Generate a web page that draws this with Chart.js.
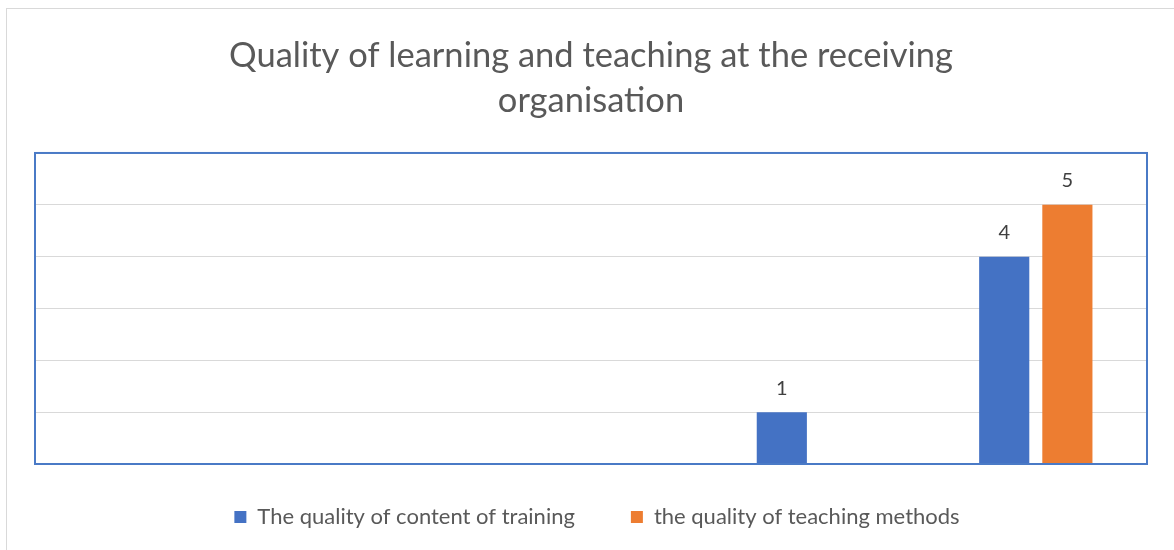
<!DOCTYPE html>
<html>
<head>
<meta charset="utf-8">
<script src="https://cdn.jsdelivr.net/npm/chart.js@4.4.0/dist/chart.umd.min.js"></script>
<style>
  body { margin: 0; background: #fff; }
  #wrap { position: relative; width: 1174px; height: 550px; }
</style>
</head>
<body>
<div id="wrap"><canvas id="myChart" width="1174" height="550"></canvas></div>
<script>
// ratings 1..5, how many answers got each rating
const ratings = ['1', '2', '3', '4', '5'];
const contentOfTraining = [null, null, null, 1, 4];
const teachingMethods = [null, null, null, null, 5];

const textColor = '#595959';

// frame, plot border and the value labels on top of bars
const extras = {
  id: 'extras',
  afterLayout(chart) {
    // put the legend row where the original has it
    const lg = chart.legend;
    lg.top = 517 - 11 - 56;
    lg.left += 6;
    lg.right += 6;
  },
  beforeDraw(chart) {
    const ctx = chart.ctx;
    ctx.save();
    ctx.strokeStyle = '#d9d9d9';
    ctx.lineWidth = 1;
    ctx.strokeRect(6.5, 8.5, 1300, 700);
    ctx.restore();
  },
  afterDatasetsDraw(chart) {
    const ctx = chart.ctx;
    const a = chart.chartArea;
    ctx.save();
    ctx.strokeStyle = '#4a7ac6';
    ctx.lineWidth = 2;
    ctx.strokeRect(a.left, a.top, a.right - a.left, a.bottom - a.top);

    ctx.fillStyle = '#404040';
    ctx.font = '20px Lato';
    ctx.textAlign = 'center';
    ctx.textBaseline = 'bottom';
    chart.data.datasets.forEach((ds, i) => {
      chart.getDatasetMeta(i).data.forEach((bar, j) => {
        if (ds.data[j] == null) return;
        ctx.fillText(ds.data[j], bar.x, bar.y - 14);
      });
    });
    ctx.restore();
  }
};

const data = {
  labels: ratings,
  datasets: [
    {
      label: 'The quality of content of training',
      data: contentOfTraining,
      backgroundColor: '#4472c4'
    },
    {
      label: 'the quality of teaching methods',
      data: teachingMethods,
      backgroundColor: '#ed7d31'
    }
  ]
};

const config = {
  type: 'bar',
  data: data,
  options: {
    responsive: false,
    animation: false,
    categoryPercentage: 0.568,
    barPercentage: 0.794,
    layout: { padding: { left: 35, right: 27, top: 0, bottom: -2 } },
    plugins: {
      title: {
        display: true,
        text: ['Quality of learning and teaching at the receiving', 'organisation'],
        color: textColor,
        font: { family: 'Lato', size: 34.5, weight: 'normal', lineHeight: 1.304 },
        padding: { top: 33, bottom: 30 }
      },
      legend: {
        position: 'bottom',
        labels: {
          color: textColor,
          font: { family: 'Lato', size: 22 },
          boxWidth: 12,
          boxHeight: 12,
          padding: 56
        }
      },
      tooltip: { enabled: false }
    },
    scales: {
      x: {
        ticks: { display: false },
        grid: { display: false },
        border: { display: false },
        afterFit(scale) { scale.height = 0; }
      },
      y: {
        min: 0,
        max: 6,
        ticks: { display: false, stepSize: 1 },
        grid: { color: '#d9d9d9', lineWidth: 1, drawTicks: false },
        border: { display: false }
      }
    }
  },
  plugins: [extras]
};

const myChart = new Chart(document.getElementById('myChart'), config);
</script>
</body>
</html>
